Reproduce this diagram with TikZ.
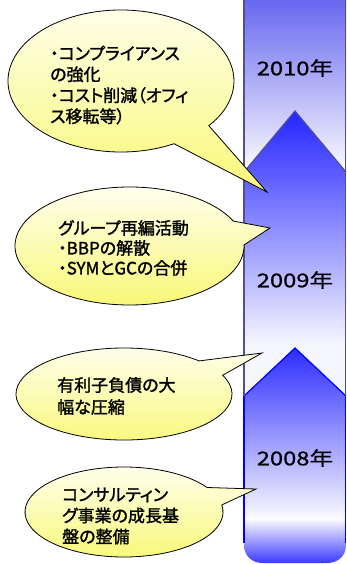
\documentclass[tikz,border=0pt]{standalone}
\usepackage{fontspec}
\newfontfamily\jp{Noto Sans CJK JP}[RawFeature=+palt, FakeBold=1.6]
\newfontfamily\jpyear{Noto Sans CJK JP}[FakeBold=0.6]
\usetikzlibrary{calc}
\definecolor{cTenTop}{RGB}{104,104,240}
\definecolor{cNineTop}{RGB}{36,36,255}
\definecolor{cEightTop}{RGB}{44,44,255}
\definecolor{cLight}{RGB}{246,246,255}
\definecolor{cCapBot}{RGB}{58,58,255}
\definecolor{cGrayLine}{RGB}{80,80,150}
\definecolor{cBlueLine}{RGB}{0,0,255}
\definecolor{cCallTop}{RGB}{255,255,238}
\definecolor{cCallBot}{RGB}{248,248,120}
\begin{document}
\begin{tikzpicture}[x=1pt,y=-1pt,
  callout/.style={draw=black, line width=0.8pt, top color=cCallTop, bottom color=cCallBot},
  calltext/.style={font=\jp\fontsize{17}{21}\selectfont, inner sep=0pt, align=left, anchor=west},
  yearlbl/.style={font=\jpyear\fontsize{19}{23}\selectfont, inner sep=0pt},
  grayedge/.style={draw=cGrayLine, line width=1.2pt},
  blueedge/.style={draw=cBlueLine, line width=1.2pt}]
\useasboundingbox (0,0) rectangle (346,564);

% ---- column ----
\fill[white] (244,0) rectangle (346,545);
% 2010 segment
\shade[top color=cTenTop, bottom color=cLight] (244,0) rectangle (346,165);
% 2009 segment
\fill[cLight] (295,111) -- (346,172) -- (346,400) -- (244,400) -- (244,172) -- cycle;
\shade[top color=cNineTop, bottom color=cLight] (295,111) -- (346,172) -- (346,345) -- (244,345) -- (244,172) -- cycle;
\draw[grayedge, line join=miter] (244,172) -- (295,111) -- (346,172);
% 2008 segment
\fill[cLight] (295,348) -- (346,396) -- (346,545) -- (244,545) -- (244,396) -- cycle;
\shade[top color=cEightTop, bottom color=cLight] (295,348) -- (346,396) -- (346,515) -- (244,515) -- (244,396) -- cycle;
\draw[blueedge, line join=miter] (244,396) -- (295,348) -- (346,396);
% bottom cap
\shade[top color=white, bottom color=cCapBot] (244,518) -- (244,545) .. controls (244,556) and (252,563) .. (263,563) -- (327,563) .. controls (338,563) and (346,556) .. (346,545) -- (346,518) -- cycle;
% side edges
\draw[grayedge] (244,0) -- (244,396);
\draw[grayedge] (345.4,0) -- (345.4,396);
\draw[blueedge] (244,396) -- (244,543);
\draw[blueedge] (345.4,396) -- (345.4,543);

% year labels
\node[yearlbl] (y2010) at (295,68) {\scalebox{1.25}[1]{2010年}};
\node[yearlbl] (y2009) at (295,280) {\scalebox{1.25}[1]{2009年}};
\node[yearlbl] (y2008) at (295,458) {\scalebox{1.25}[1]{2008年}};

% ---- callouts ----
\coordinate (e1) at (121,81);    \coordinate (t1) at (267,192);
\coordinate (e2) at (129.5,246); \coordinate (t2) at (270,228);
\coordinate (e3) at (124,394);   \coordinate (t3) at (262,353);
\coordinate (e4) at (124,512);   \coordinate (t4) at (256,489);

\path[callout] ($(e1)+(39:113 and 71)$) -- (t1) -- ($(e1)+(62:113 and 71)$)
  arc[start angle=62, end angle=399, x radius=113, y radius=71] -- cycle;
\path[callout] ($(e2)+(-25:114.5 and 59)$) -- (t2) -- ($(e2)+(-1:114.5 and 59)$)
  arc[start angle=-1, end angle=335, x radius=114.5, y radius=59] -- cycle;
\path[callout] ($(e3)+(-46:108 and 46)$) -- (t3) -- ($(e3)+(-24:108 and 46)$)
  arc[start angle=-24, end angle=314, x radius=108, y radius=46] -- cycle;
\path[callout] ($(e4)+(-33:99 and 45)$) -- (t4) -- ($(e4)+(-9:99 and 45)$)
  arc[start angle=-9, end angle=327, x radius=99, y radius=45] -- cycle;

\node[calltext] (c1) at (50,85) {・コンプライアンス\\の強化\\・コスト削減（オフィ\\ス移転等）};
\node[calltext, font=\jp\fontsize{17}{20}\selectfont] (c2) at (58,248) {グループ再編活動\\・BBPの解散\\・SYMとGCの合併};
\node[calltext, font=\jp\fontsize{17}{22}\selectfont] (c3) at (57,396) {有利子負債の大\\幅な圧縮};
\node[calltext] (c4) at (62,516) {コンサルティン\\グ事業の成長基\\盤の整備};
\end{tikzpicture}
\end{document}
